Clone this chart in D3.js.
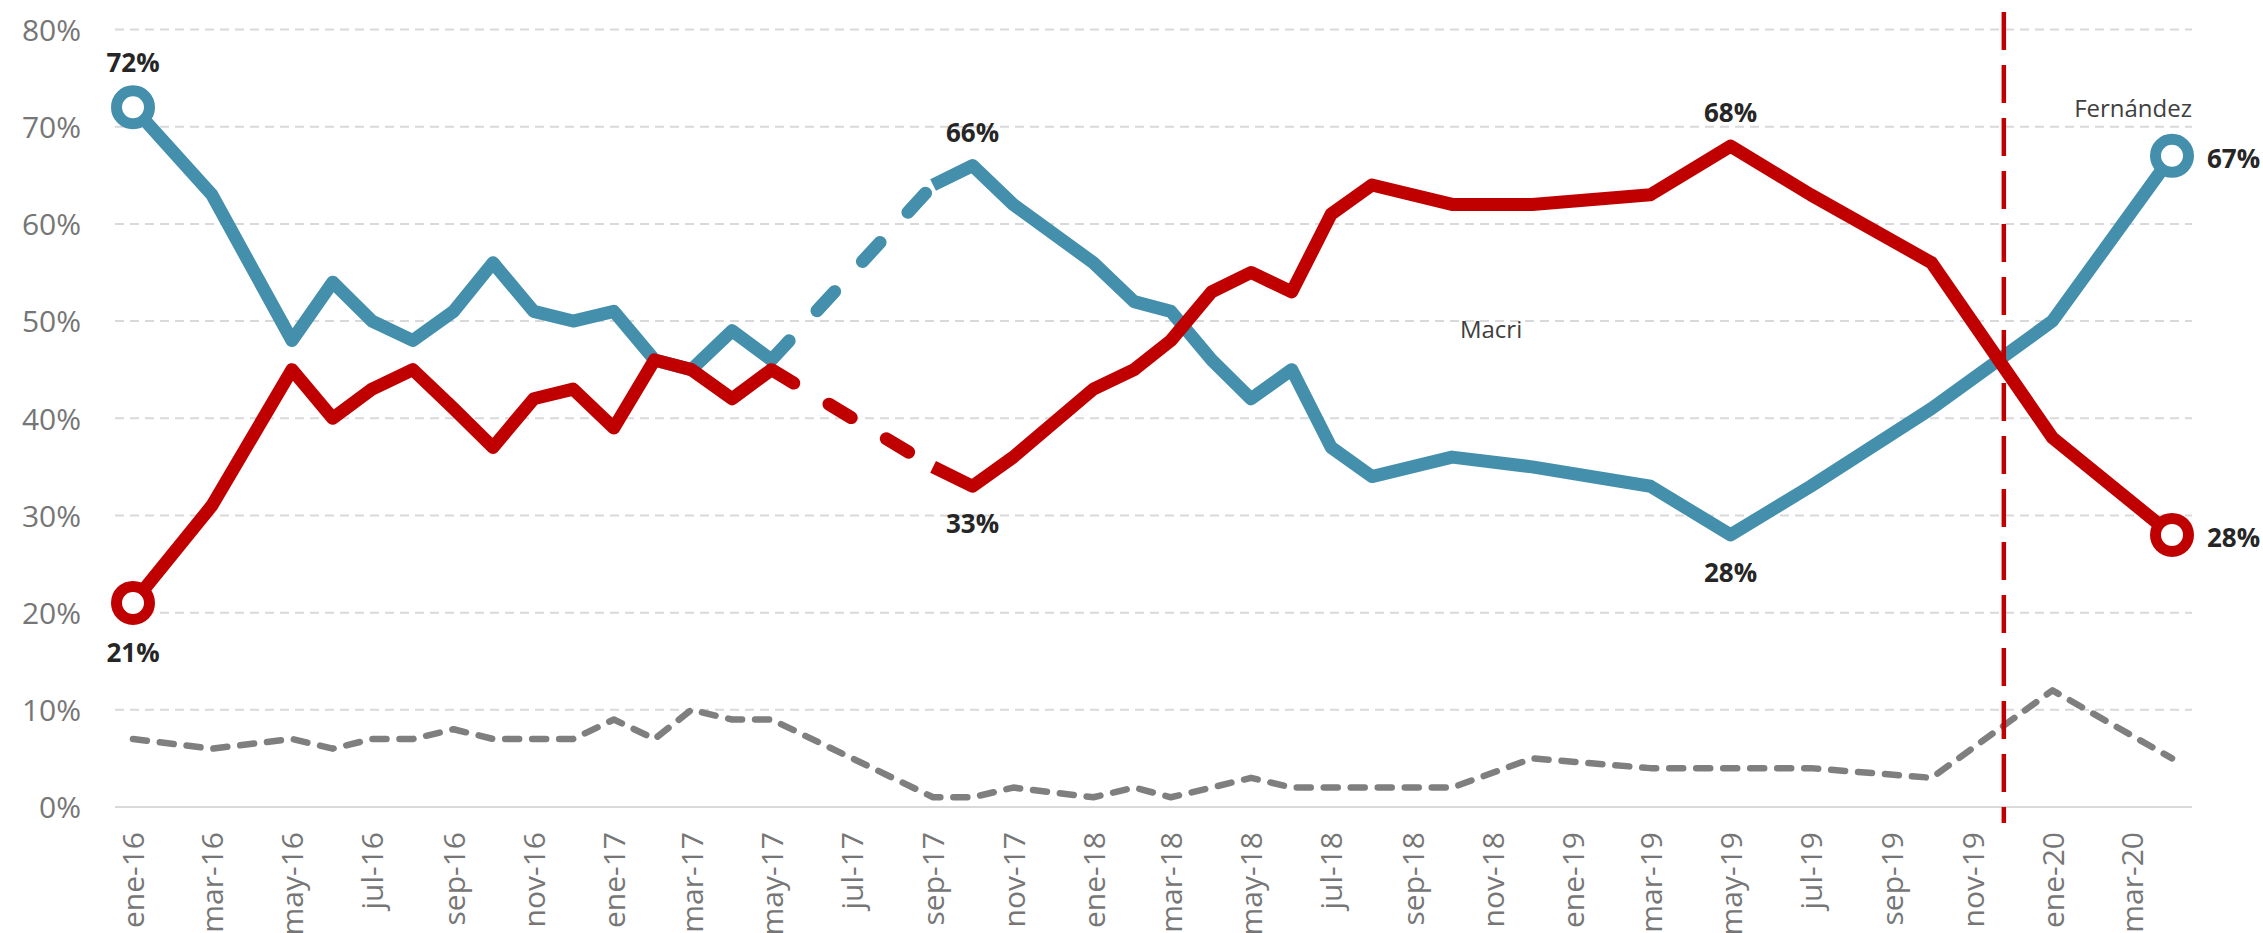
<!DOCTYPE html>
<html>
<head>
<meta charset="utf-8">
<script src="https://cdn.jsdelivr.net/npm/d3@7"></script>
<style>
  body { margin: 0; background: #fff; }
  text { font-family: "Open Sans", "Noto Sans", sans-serif; }
</style>
</head>
<body>
<div id="grafico"></div>
<script>

// meses con encuesta (null = sin dato)
var meses = ["2016-01","2016-03","2016-05","2016-06","2016-07","2016-08","2016-09","2016-10","2016-11","2016-12",
             "2017-01","2017-02","2017-03","2017-04","2017-05","2017-06","2017-07","2017-08","2017-09","2017-10","2017-11",
             "2018-01","2018-02","2018-03","2018-04","2018-05","2018-06","2018-07","2018-08","2018-10","2018-12",
             "2019-03","2019-05","2019-07","2019-10","2020-01","2020-04"];

// aprobacion (azul)
var aprobacion = [72,63,48,54,50,48,51,56,51,50,
                  51,46,45,49,46,null,null,null,64,66,62,
                  56,52,51,46,42,45,37,34,36,35,
                  33,28,33,41,50,67];

// desaprobacion (rojo)
var desaprobacion = [21,31,45,40,43,45,41,37,42,43,
                     39,46,45,42,45,null,null,null,35,33,36,
                     43,45,48,53,55,53,61,64,62,62,
                     63,68,63,56,38,28];

// ns/nc (gris)
var nsnc = [7,6,7,6,7,7,8,7,7,7,
            9,7,10,9,9,null,null,null,1,1,2,
            1,2,1,2,3,2,2,2,2,5,
            4,4,4,3,12,5];

var ticksY = [0,0.1,0.2,0.3,0.4,0.5,0.6,0.7,0.8];
var mesesCortos = ["ene","feb","mar","abr","may","jun","jul","ago","sep","oct","nov","dic"];
var cambioGobierno = "2019-11-25";

// etiquetas de valores destacados
var destacados = [
  {serie:"aprobacion", mes:"2016-01", pos:"arriba"},
  {serie:"desaprobacion", mes:"2016-01", pos:"abajo"},
  {serie:"aprobacion", mes:"2017-10", pos:"arriba"},
  {serie:"desaprobacion", mes:"2017-10", pos:"abajo"},
  {serie:"desaprobacion", mes:"2019-05", pos:"arriba"},
  {serie:"aprobacion", mes:"2019-05", pos:"abajo"},
  {serie:"aprobacion", mes:"2020-04", pos:"derecha"},
  {serie:"desaprobacion", mes:"2020-04", pos:"derecha"}
];

// nombres de los periodos
var periodos = [
  {texto:"Macri", mes:"2018-10-07", valor:0.483, ancla:"start"},
  {texto:"Fernández", mes:"2020-04-01", valor:0.71, ancla:"end"}
];


/***** obszar rysowania *****/

var width = 2263, height = 933;
var izq = 115, der = 2192;

var parse = d3.timeParse("%Y-%m");
var parseDia = d3.timeParse("%Y-%m-%d");

var svg = d3.select("#grafico")
    .append("svg")
    .attr("width", width)
    .attr("height", height);

var x = d3.scaleTime()
    .domain([parse("2016-01"), parse("2020-04")])
    .range([133, 2172]);

var y = d3.scaleLinear()
    .domain([0, 0.8])
    .range([807, 29.5]);

var series = {
  aprobacion: meses.map(function(m,i){ return {fecha: parse(m), v: aprobacion[i] == null ? null : aprobacion[i]/100}; }),
  desaprobacion: meses.map(function(m,i){ return {fecha: parse(m), v: desaprobacion[i] == null ? null : desaprobacion[i]/100}; }),
  nsnc: meses.map(function(m,i){ return {fecha: parse(m), v: nsnc[i] == null ? null : nsnc[i]/100}; })
};
var colores = {aprobacion: "#438fac", desaprobacion: "#c00000", nsnc: "#7f7f7f"};

// lineas de la grilla
svg.append("g")
  .selectAll("line")
  .data(ticksY.filter(function(t){ return t > 0; }))
  .enter().append("line")
  .attr("x1", izq).attr("x2", der)
  .attr("y1", function(d){ return y(d); })
  .attr("y2", function(d){ return y(d); })
  .attr("stroke", "#d9d9d9")
  .attr("stroke-width", 2)
  .attr("stroke-dasharray", "9,6");

svg.append("line")
  .attr("x1", izq).attr("x2", der)
  .attr("y1", y(0)).attr("y2", y(0))
  .attr("stroke", "#d9d9d9")
  .attr("stroke-width", 2);

// eje y
var ejeY = d3.axisLeft(y)
  .tickValues(ticksY)
  .tickSize(0)
  .tickFormat(d3.format(".0%"));

svg.append("g")
  .attr("transform", "translate(81,0)")
  .call(ejeY)
  .call(function(g){ g.select(".domain").remove(); })
  .selectAll("text")
  .attr("x", 0)
  .attr("dy", "0.36em")
  .style("font-size", "30px")
  .style("font-family", "'Open Sans', sans-serif")
  .attr("fill", "#767676");

// eje x
var es = d3.timeFormatLocale({
  dateTime: "%x %X", date: "%d/%m/%Y", time: "%H:%M:%S", periods: ["AM","PM"],
  days: ["domingo","lunes","martes","miércoles","jueves","viernes","sábado"],
  shortDays: ["dom","lun","mar","mié","jue","vie","sáb"],
  months: ["enero","febrero","marzo","abril","mayo","junio","julio","agosto","septiembre","octubre","noviembre","diciembre"],
  shortMonths: mesesCortos
});

var ejeX = d3.axisBottom(x)
  .tickValues(d3.timeMonth.every(2).range(parse("2016-01"), parse("2020-04")))
  .tickSize(0)
  .tickFormat(es.format("%b-%y"));

svg.append("g")
  .attr("transform", "translate(0," + y(0) + ")")
  .call(ejeX)
  .call(function(g){ g.select(".domain").remove(); })
  .selectAll("text")
  .attr("y", 0)
  .attr("x", -25)
  .attr("dy", "0.36em")
  .attr("transform", "rotate(-90)")
  .style("text-anchor", "end")
  .style("font-size", "30px")
  .style("font-family", "'Open Sans', sans-serif")
  .attr("fill", "#767676");

// linea gris ns/nc (une los puntos existentes)
var linea = d3.line()
  .x(function(d){ return x(d.fecha); })
  .y(function(d){ return y(d.v); });

svg.append("path")
  .datum(series.nsnc.filter(function(d){ return d.v != null; }))
  .attr("d", linea)
  .attr("fill", "none")
  .attr("stroke", colores.nsnc)
  .attr("stroke-width", 6.5)
  .attr("stroke-linecap", "round")
  .attr("stroke-linejoin", "round")
  .attr("stroke-dasharray", "14,13");

// aprobacion y desaprobacion
["aprobacion", "desaprobacion"].forEach(function(s){
  var datos = series[s];

  svg.append("path")
    .datum(datos)
    .attr("d", linea.defined(function(d){ return d.v != null; }))
    .attr("fill", "none")
    .attr("stroke", colores[s])
    .attr("stroke-width", 13)
    .attr("stroke-linejoin", "round");

  // tramo sin datos -> discontinuo
  var puente = [];
  datos.forEach(function(d,i){
    if (d.v != null && i + 1 < datos.length && datos[i+1].v == null) puente.push(d);
    if (d.v != null && i > 0 && datos[i-1].v == null) puente.push(d);
  });

  svg.append("path")
    .datum(puente)
    .attr("d", d3.line().x(function(d){ return x(d.fecha); }).y(function(d){ return y(d.v); }))
    .attr("fill", "none")
    .attr("stroke", colores[s])
    .attr("stroke-width", 13)
    .attr("stroke-linecap", "round")
    .attr("stroke-dasharray", "26,41");
});

linea.defined(function(){ return true; });

// cambio de gobierno
svg.append("line")
  .attr("x1", x(parseDia(cambioGobierno))).attr("x2", x(parseDia(cambioGobierno)))
  .attr("y1", 12).attr("y2", 823)
  .attr("stroke", "#c00000")
  .attr("stroke-width", 4.5)
  .attr("stroke-dasharray", "38,15");

// circulos en los extremos
["aprobacion", "desaprobacion"].forEach(function(s){
  var datos = series[s];
  svg.append("g")
    .selectAll("circle")
    .data([datos[0], datos[datos.length-1]])
    .enter().append("circle")
    .attr("cx", function(d){ return x(d.fecha); })
    .attr("cy", function(d){ return y(d.v); })
    .attr("r", 16.5)
    .attr("fill", "#fff")
    .attr("stroke", colores[s])
    .attr("stroke-width", 11);
});

// etiquetas de valores
svg.append("g")
  .selectAll("text")
  .data(destacados)
  .enter().append("text")
  .each(function(d){
    var i = meses.indexOf(d.mes);
    var p = series[d.serie][i];
    var extremo = (i == 0 || i == meses.length - 1);
    var t = d3.select(this).text(d3.format(".0%")(p.v));
    if (d.pos == "derecha") {
      t.attr("x", x(p.fecha) + 35).attr("y", y(p.v) + 12).attr("text-anchor", "start");
    } else if (d.pos == "arriba") {
      t.attr("x", x(p.fecha)).attr("y", y(p.v) - (extremo ? 35 : 24)).attr("text-anchor", "middle");
    } else {
      t.attr("x", x(p.fecha)).attr("y", y(p.v) + (extremo ? 59 : 47)).attr("text-anchor", "middle");
    }
  })
  .style("font-size", "26px")
  .style("font-weight", "bold")
  .attr("fill", "#262626");

// nombres
svg.append("g")
  .selectAll("text")
  .data(periodos)
  .enter().append("text")
  .attr("x", function(d){ return d.ancla == "end" ? der : x(parseDia(d.mes)); })
  .attr("y", function(d){ return y(d.valor); })
  .attr("text-anchor", function(d){ return d.ancla; })
  .text(function(d){ return d.texto; })
  .style("font-size", "24px")
  .attr("fill", "#404040");

</script>
</body>
</html>
